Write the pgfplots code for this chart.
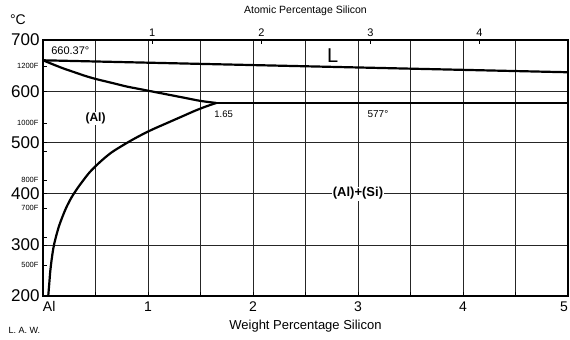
\documentclass[border=0pt]{standalone}
\usepackage{pgfplots}
\pgfplotsset{compat=1.18}
\usetikzlibrary{calc}
\usepackage{fontspec}
\setmainfont{Liberation Sans}
\begin{document}
\begin{tikzpicture}
\begin{axis}[name=ax, scale only axis, width=525pt, height=256pt,
  xmin=0, xmax=5, ymin=200, ymax=700,
  xtick={0,1,2,3,4,5}, xticklabels={\makebox[0pt][l]{Al},1,2,3,4,\makebox[0pt][r]{5}},
  minor x tick num=1,
  ytick={200,300,...,700},
  extra y ticks={648.9,537.8,482.2,426.7,371.1,315.6,260},
  extra y tick labels={1200F,1000F,,800F,700F,,500F},
  extra y tick style={grid=none, major tick length=4pt,
     yticklabel style={font=\fontsize{7.5}{7.5}\selectfont, xshift=-1pt}},
  grid=both,
  major grid style={black!85, line width=0.6pt},
  minor grid style={black!85, line width=0.6pt},
  axis line style={line width=1.2pt},
  tick align=inside, xtick pos=bottom, ytick pos=left,
  major tick length=4pt, minor tick length=4pt,
  tick style={black, line width=0.6pt},
  ticklabel style={/pgf/number format/assume math mode=true},
  yticklabel style={font=\fontsize{17}{17}\selectfont},
  xticklabel style={font=\fontsize{14}{14}\selectfont, yshift=-2pt},
  xlabel={Weight Percentage Silicon},
  xlabel style={font=\fontsize{13}{13}\selectfont, yshift=-2pt},
  clip=false,
]
% liquidus
\addplot[black, line width=2.2pt] coordinates {(0,660.37) (5,637)};
% eutectic
\addplot[black, line width=2.2pt] coordinates {(1.65,577) (5,577)};
% solidus
\addplot[black, line width=2.2pt, smooth] coordinates {
 (0,660.37) (0.1,652) (0.2,644) (0.3,637) (0.4,630) (0.5,624) (0.6,619)
 (0.7,614) (0.8,609) (0.9,605) (1.0,601) (1.1,597) (1.2,593) (1.3,589)
 (1.4,585) (1.5,581) (1.65,577)};
% solvus
\addplot[black, line width=2.2pt, smooth] coordinates {
 (1.65,577) (1.55,570) (1.45,562) (1.35,553) (1.25,544) (1.15,535) (1.05,526)
 (0.95,516) (0.85,505) (0.75,493) (0.65,480) (0.55,463) (0.45,443) (0.38,425)
 (0.32,408) (0.27,392) (0.22,372) (0.18,352) (0.15,335) (0.12,313) (0.10,295)
 (0.085,275) (0.07,250) (0.06,225) (0.05,200)};
\node[font=\fontsize{11}{11}\selectfont, fill=white, inner sep=1pt] at (axis cs:0.26,679) {660.37°};
\node[font=\fontsize{20}{20}\selectfont] at (axis cs:2.76,670) {L};
\node[font=\fontsize{12}{12}\selectfont\bfseries, fill=white, inner sep=1pt] at (axis cs:0.5,547) {(Al)};
\node[font=\fontsize{9.5}{9.5}\selectfont, fill=white, inner sep=1pt] at (axis cs:1.72,555) {1.65};
\node[font=\fontsize{10}{10}\selectfont, fill=white, inner sep=1pt] at (axis cs:3.19,555) {577°};
\node[font=\fontsize{13}{13}\selectfont\bfseries, fill=white, inner sep=1pt] at (axis cs:3.0,400) {(Al)+(Si)};
\end{axis}
\begin{axis}[at={(ax.south west)}, anchor=south west, scale only axis,
  width=525pt, height=256pt,
  xmin=0, xmax=5, ymin=200, ymax=700,
  axis x line*=top, axis y line=none,
  xtick={1.0405,2.080,3.119,4.157}, xticklabels={1,2,3,4},
  tick align=inside, major tick length=4pt,
  tick style={black, line width=0.6pt},
  axis line style={line width=1.2pt},
  ticklabel style={/pgf/number format/assume math mode=true},
  xticklabel style={font=\fontsize{11}{11}\selectfont},
  xlabel={Atomic Percentage Silicon},
  xlabel style={font=\fontsize{10.5}{10.5}\selectfont, yshift=6pt},
]
\end{axis}
\node[font=\fontsize{14}{14}\selectfont] at ($(ax.north west)+(-25pt,20pt)$) {°C};
\node[font=\fontsize{9}{9}\selectfont, anchor=west] at ($(ax.south west)+(-38pt,-34pt)$) {L. A. W.};
\pgfresetboundingbox
\useasboundingbox ($(ax.south west)+(-43pt,-43pt)$) rectangle ($(ax.north east)+(2pt,40pt)$);
\end{tikzpicture}
\end{document}
